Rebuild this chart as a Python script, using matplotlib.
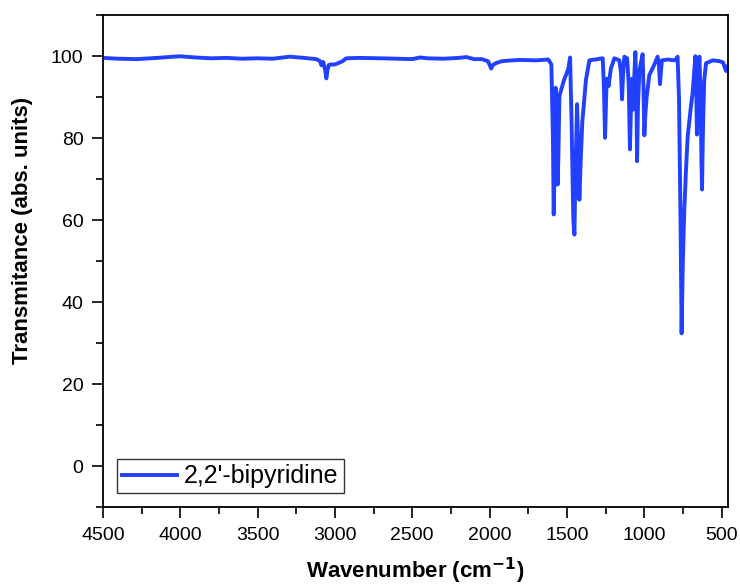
import matplotlib
matplotlib.use("Agg")
import matplotlib.pyplot as plt
from matplotlib.ticker import MultipleLocator

plt.rcParams['font.family'] = ['Liberation Sans', 'DejaVu Sans']

series_label = "2,2'-bipyridine"

wavenumber = [
    4500, 4400, 4282, 4150, 4003, 3900, 3800, 3700, 3600, 3500, 3402, 3292, 3200,
    3120, 3095, 3087, 3075, 3062, 3055, 3048, 3040, 3030, 3000, 2980, 2950, 2926,
    2850, 2700, 2600, 2500, 2450, 2400, 2300, 2200, 2150, 2100, 2050, 2010, 1995,
    1989, 1980, 1960, 1920, 1852, 1800, 1700, 1620, 1600, 1590, 1585, 1578, 1572,
    1566, 1560, 1555, 1548, 1520, 1490, 1479, 1470, 1458, 1451, 1445, 1434, 1428,
    1419, 1410, 1400, 1376, 1354, 1300, 1268, 1260, 1253, 1246, 1242, 1230, 1225,
    1215, 1193, 1160, 1150, 1143, 1136, 1128, 1110, 1100, 1092, 1085, 1079, 1070,
    1063, 1057, 1050, 1046, 1040, 1031, 1010, 1005, 999, 992, 984, 967, 940, 913,
    905, 898, 890, 885, 850, 800, 784, 775, 765, 758, 750, 741, 730, 719, 700, 687,
    675, 669, 664, 659, 652, 643, 635, 630, 626, 620, 612, 600, 557, 513, 490, 471,
    460,
]

transmittance = [
    99.6, 99.4, 99.3, 99.6, 100.0, 99.7, 99.5, 99.6, 99.4, 99.5, 99.4, 99.9, 99.6,
    99.3, 98.8, 97.8, 98.6, 96.5, 94.6, 96.5, 97.8, 98.0, 98.0, 98.3, 98.8, 99.5,
    99.6, 99.5, 99.4, 99.3, 99.7, 99.5, 99.4, 99.6, 99.8, 99.3, 99.3, 98.8, 97.5,
    97.0, 97.8, 98.3, 98.8, 99.0, 99.1, 99.0, 99.2, 98.0, 80.0, 61.4, 75.0, 92.3,
    80.0, 68.7, 75.0, 90.3, 94.0, 97.0, 99.7, 85.0, 60.0, 56.5, 70.0, 88.3, 80.0,
    65.0, 75.0, 84.0, 94.4, 99.0, 99.3, 99.5, 92.0, 80.1, 90.0, 94.5, 92.7, 94.4,
    97.0, 99.5, 99.0, 96.0, 89.5, 96.0, 99.9, 99.5, 93.0, 77.3, 88.0, 94.5, 87.0,
    96.0, 101.0, 90.0, 74.4, 88.0, 96.5, 100.5, 93.0, 80.7, 86.0, 90.0, 95.4, 97.5, 99.9,
    98.0, 93.2, 97.0, 99.0, 99.2, 99.0, 99.9, 90.0, 60.0, 32.4, 50.0, 62.0, 72.0, 80.3, 87.0, 91.0,
    97.0, 100.0, 94.0, 80.9, 92.0, 99.9, 90.0, 75.0, 67.5, 82.0, 94.0, 98.3, 99.0, 98.8, 98.5, 96.4,
    97.5,
]

fig = plt.figure(figsize=(7.4, 5.87), dpi=100)
ax = fig.add_axes([0.139, 0.136, 0.845, 0.838])

ax.plot(wavenumber, transmittance, color='#2140ff', linewidth=2.8,
        solid_joinstyle='round', label=series_label)

ax.set_xlim(4500, 457)
ax.set_ylim(-10, 110)
ax.xaxis.set_major_locator(MultipleLocator(500))
ax.xaxis.set_minor_locator(MultipleLocator(250))
ax.yaxis.set_major_locator(MultipleLocator(20))
ax.yaxis.set_minor_locator(MultipleLocator(10))

ax.tick_params(which='both', direction='out', top=False, right=False, width=1.2,
               labelsize=14, colors='black')
ax.tick_params(which='major', length=8, pad=6)
ax.tick_params(which='minor', length=5)
for s in ax.spines.values():
    s.set_linewidth(1.3)
    s.set_color('black')

ax.set_xlabel('Wavenumber (cm$^{\\mathbf{-1}}$)', fontsize=16, fontweight='bold',
              va='center')
ax.set_ylabel('Transmitance (abs. units)', fontsize=16, fontweight='bold',
              va='center')
ax.xaxis.set_label_coords(0.5, -0.130)
ax.yaxis.set_label_coords(-0.128, 0.563)

leg = ax.legend(loc='lower left', fontsize=18, frameon=True, fancybox=False,
                edgecolor='black', borderpad=0.2, handlelength=2.2,
                handletextpad=0.3, borderaxespad=0.0,
                bbox_to_anchor=(0.022, 0.028))
leg.get_frame().set_linewidth(1.0)

fig.savefig('out.png', dpi=100)
